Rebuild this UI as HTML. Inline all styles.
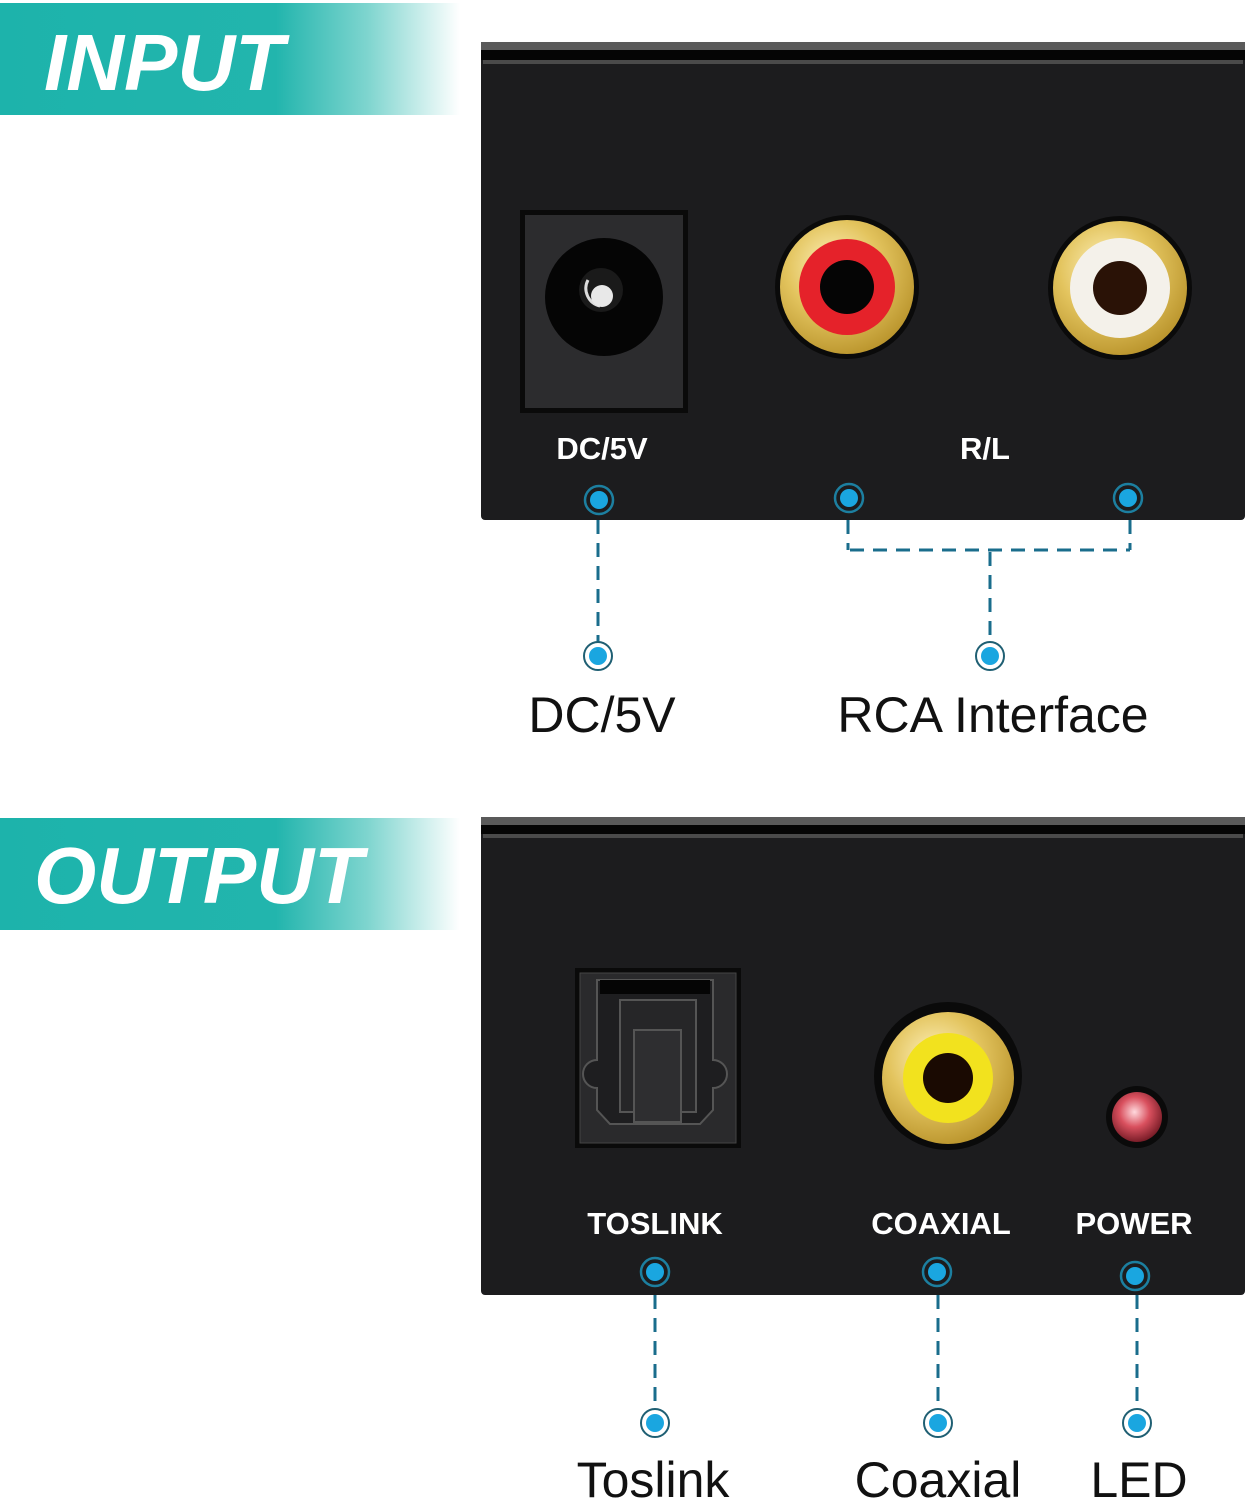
<!DOCTYPE html>
<html><head><meta charset="utf-8"><style>
html,body{margin:0;padding:0;background:#fff;}
svg{display:block}
</style></head><body>
<svg width="1249" height="1500" viewBox="0 0 1249 1500" xmlns="http://www.w3.org/2000/svg">
<defs>
<linearGradient id="ban" x1="0" x2="1" y1="0" y2="0">
<stop offset="0" stop-color="#1db3ab"/>
<stop offset="0.6" stop-color="#22b5ad"/>
<stop offset="0.8" stop-color="#7fd5cf"/>
<stop offset="1" stop-color="#ffffff"/>
</linearGradient>
<radialGradient id="gold" cx="0.4" cy="0.35" r="0.7">
<stop offset="0" stop-color="#fff3c0"/>
<stop offset="0.5" stop-color="#e3c45e"/>
<stop offset="1" stop-color="#b8922a"/>
</radialGradient>
<radialGradient id="led" cx="0.45" cy="0.4" r="0.6">
<stop offset="0" stop-color="#ffd9dd"/>
<stop offset="0.5" stop-color="#d9505e"/>
<stop offset="1" stop-color="#7a1d28"/>
</radialGradient>
<g id="dot"><circle r="14" fill="none" stroke="#1c7fa0" stroke-width="2.5"/><circle r="9" fill="#1aa6e0"/></g>
<g id="dotw"><circle r="14" fill="none" stroke="#1f5f73" stroke-width="2"/><circle r="9" fill="#1aa6e0"/></g>
</defs>
<rect width="1249" height="1500" fill="#fff"/>

<!-- banners -->
<rect x="0" y="3" width="460" height="112" fill="url(#ban)"/>
<text x="44" y="90" font-family="Liberation Sans, sans-serif" font-size="80" font-weight="bold" font-style="italic" fill="#fff">INPUT</text>
<rect x="0" y="818" width="460" height="112" fill="url(#ban)"/>
<text x="34" y="903" font-family="Liberation Sans, sans-serif" font-size="80" font-weight="bold" font-style="italic" fill="#fff">OUTPUT</text>

<!-- box 1 -->
<rect x="481" y="42" width="764" height="478" rx="4" fill="#1c1c1e"/>
<rect x="481" y="42" width="764" height="8" fill="#5a5a5a"/>
<rect x="481" y="50" width="764" height="10" fill="#050505"/>
<rect x="483" y="60" width="760" height="4" fill="#4a4a4a"/>
<rect x="520" y="210" width="168" height="203" fill="#0a0a0a"/>
<rect x="525" y="215" width="158" height="193" fill="#2c2c2e"/>
<circle cx="604" cy="297" r="59" fill="#050505"/>
<circle cx="601" cy="290" r="22" fill="#1a1a1a"/>
<path d="M588 280 A18 18 0 0 0 600 306" fill="none" stroke="#ddd" stroke-width="3"/>
<circle cx="602" cy="296" r="11" fill="#e8e8e8"/>

<circle cx="847" cy="287" r="72" fill="#0a0a0a"/>
<circle cx="847" cy="287" r="67" fill="url(#gold)"/>
<circle cx="847" cy="287" r="48" fill="#e5222a"/>
<circle cx="847" cy="287" r="27" fill="#050505"/>
<circle cx="1120" cy="288" r="72" fill="#0a0a0a"/>
<circle cx="1120" cy="288" r="67" fill="url(#gold)"/>
<circle cx="1120" cy="288" r="50" fill="#f4f1ea"/>
<circle cx="1120" cy="288" r="27" fill="#2a1206"/>

<g font-family="Liberation Sans, sans-serif" font-weight="bold" font-size="31" fill="#fff" text-anchor="middle">
<text x="602" y="459">DC/5V</text>
<text x="985" y="459">R/L</text>
</g>
<use href="#dot" x="599" y="500"/>
<use href="#dot" x="849" y="498"/>
<use href="#dot" x="1128" y="498"/>

<g stroke="#1a6d8c" stroke-width="3" fill="none" stroke-dasharray="14 9">
<line x1="598" y1="520" x2="598" y2="642"/>
<line x1="848" y1="520" x2="848" y2="550"/>
<line x1="1130" y1="520" x2="1130" y2="550"/>
<line x1="850" y1="550" x2="1130" y2="550"/>
<line x1="990" y1="552" x2="990" y2="642"/>
</g>
<use href="#dotw" x="598" y="656"/>
<use href="#dotw" x="990" y="656"/>
<g font-family="Liberation Sans, sans-serif" font-size="50" fill="#111" text-anchor="middle">
<text x="602" y="732">DC/5V</text>
<text x="993" y="732">RCA Interface</text>
</g>

<!-- box 2 -->
<rect x="481" y="817" width="764" height="478" rx="4" fill="#1c1c1e"/>
<rect x="481" y="817" width="764" height="8" fill="#5a5a5a"/>
<rect x="481" y="825" width="764" height="9" fill="#050505"/>
<rect x="483" y="834" width="760" height="4" fill="#4a4a4a"/>

<rect x="575" y="968" width="166" height="180" fill="#0a0a0a"/>
<rect x="580" y="973" width="156" height="170" fill="#2a2a2c" stroke="#444" stroke-width="1"/>
<path d="M597 980 H713 V1060 A14 14 0 0 1 713 1088 V1110 L700 1124 H610 L597 1110 V1088 A14 14 0 0 1 597 1060 Z" fill="#1e1e20" stroke="#555" stroke-width="2"/>
<rect x="600" y="980" width="110" height="14" fill="#050505"/>
<rect x="620" y="1000" width="76" height="112" fill="#262628" stroke="#555" stroke-width="2"/>
<rect x="634" y="1030" width="47" height="92" fill="#2e2e30" stroke="#555" stroke-width="2"/>

<circle cx="948" cy="1076" r="74" fill="#0a0a0a"/>
<circle cx="948" cy="1078" r="66" fill="url(#gold)"/>
<circle cx="948" cy="1078" r="45" fill="#f2e21e"/>
<circle cx="948" cy="1078" r="25" fill="#1a0a02"/>
<circle cx="1137" cy="1117" r="31" fill="#0a0a0a"/>
<circle cx="1137" cy="1117" r="25" fill="url(#led)"/>

<g font-family="Liberation Sans, sans-serif" font-weight="bold" font-size="31" fill="#fff" text-anchor="middle">
<text x="655" y="1234">TOSLINK</text>
<text x="941" y="1234">COAXIAL</text>
<text x="1134" y="1234">POWER</text>
</g>
<use href="#dot" x="655" y="1272"/>
<use href="#dot" x="937" y="1272"/>
<use href="#dot" x="1135" y="1276"/>
<g stroke="#1a6d8c" stroke-width="3" fill="none" stroke-dasharray="14 9">
<line x1="655" y1="1295" x2="655" y2="1409"/>
<line x1="938" y1="1295" x2="938" y2="1409"/>
<line x1="1137" y1="1295" x2="1137" y2="1409"/>
</g>
<use href="#dotw" x="655" y="1423"/>
<use href="#dotw" x="938" y="1423"/>
<use href="#dotw" x="1137" y="1423"/>
<g font-family="Liberation Sans, sans-serif" font-size="50" fill="#111" text-anchor="middle">
<text x="653" y="1497">Toslink</text>
<text x="938" y="1497">Coaxial</text>
<text x="1139" y="1497">LED</text>
</g>
</svg>
</body></html>
